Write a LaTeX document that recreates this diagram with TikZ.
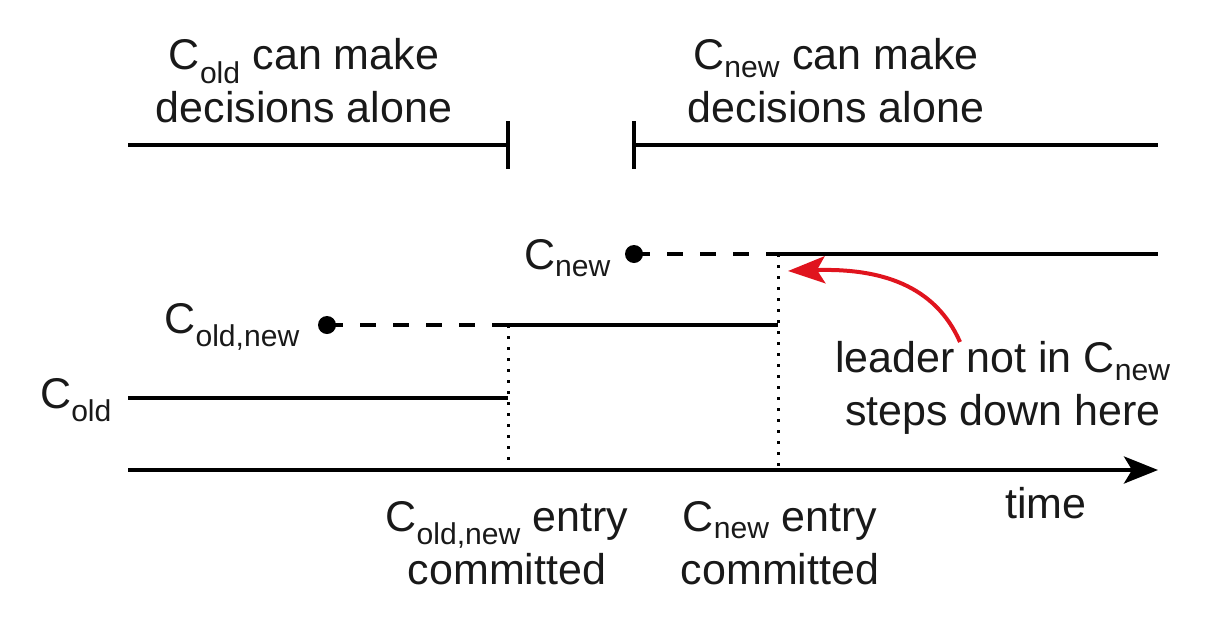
\documentclass[tikz,border=0pt]{standalone}
\usepackage{fontspec}
\setmainfont{Liberation Sans}
\usetikzlibrary{arrows.meta}
\definecolor{arrowred}{HTML}{E0141E}
\tikzset{
  lbl/.style={font=\fontsize{43}{53}\selectfont, inner sep=0pt, align=center, text=black!90},
  tl/.style={line width=4pt, black},
  dsh/.style={line width=4pt, black, dash pattern=on 16pt off 17pt},
  dotl/.style={line width=3pt, black, dash pattern=on 3pt off 8pt},
  dotnode/.style={circle, fill=black, inner sep=0pt, minimum size=18pt},
}
\begin{document}
\begin{tikzpicture}[x=1pt,y=-1pt]
\useasboundingbox (0,0) rectangle (1228,616);
% top ranges
\coordinate (la) at (128,145);
\coordinate (lb) at (508,145);
\coordinate (ra) at (634,145);
\coordinate (rb) at (1158,145);
\draw[tl] (la) -- (lb);
\draw[tl] (508,121) -- (508,169);
\draw[tl] (ra) -- (rb);
\draw[tl] (634,121) -- (634,169);
\node[lbl] (toptl) at (304,81) {C\textsubscript{old} can make\\decisions alone};
\node[lbl] (toptr) at (836,81) {C\textsubscript{new} can make\\decisions alone};
% C_new
\node[dotnode] (dn) at (634,254) {};
\coordinate (cn) at (778,254);
\coordinate (cnend) at (1158,254);
\draw[dsh] (dn.center) -- (cn);
\draw[tl] (cn) -- (cnend);
\node[lbl, anchor=east] (lcn) at (611,258) {C\textsubscript{new}};
% C_old,new
\node[dotnode] (don) at (327,325) {};
\coordinate (con) at (508,325);
\coordinate (conend) at (778,325);
\draw[dsh] (don.center) -- (con);
\draw[tl] (con) -- (conend);
\node[lbl, anchor=east] (lcon) at (300,327) {C\textsubscript{old,new}};
% C_old
\coordinate (co) at (128,398);
\coordinate (coend) at (508,398);
\draw[tl] (co) -- (coend);
\node[lbl, anchor=west] (lco) at (40,400) {C\textsubscript{old}};
% time axis
\coordinate (t0) at (128,470);
\coordinate (t1) at (1158,470);
\draw[tl, -{Stealth[length=34pt,width=27pt,inset=8pt]}] (t0) -- (t1);
\node[lbl] (time) at (1046,503) {time};
% dotted verticals
\coordinate (v1) at (508,470);
\coordinate (v2) at (778,470);
\draw[dotl] (con) -- (v1);
\draw[dotl] (cn) -- (v2);
% bottom labels
\node[lbl] (b1) at (507,543) {C\textsubscript{old,new} entry\\committed};
\node[lbl] (b2) at (780,543) {C\textsubscript{new} entry\\committed};
% leader note
\node[lbl] (note) at (1003,388) {leader not in C\textsubscript{new}\\steps down here};
\coordinate (ns) at (960,342);
\coordinate (nt) at (788,271);
\draw[line width=4pt, arrowred, -{Stealth[length=37pt,width=27pt,inset=8pt]}] (ns) .. controls (935,285) and (880,268) .. (nt);
\end{tikzpicture}
\end{document}
